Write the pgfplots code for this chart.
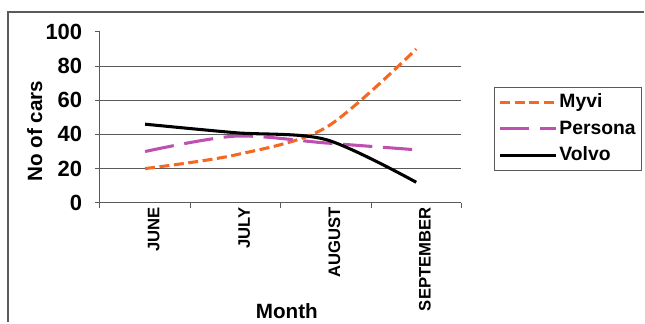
\documentclass[border=0pt]{standalone}
\usepackage{fontspec}
\setmainfont{Liberation Sans}
\usepackage{pgfplots}
\pgfplotsset{compat=1.18}

\definecolor{myvi}{RGB}{246,104,34}
\definecolor{persona}{RGB}{190,80,175}
\definecolor{axisgray}{RGB}{90,90,90}

\begin{document}
\begin{tikzpicture}[x=0.75pt,y=0.75pt]
\path (0,0) rectangle (645,322);
% outer chart frame
\draw[axisgray,line width=1.2pt] (8,0) -- (8,310) -- (645,310);
\begin{axis}[
  at={(75pt,89.25pt)}, anchor=south west,
  scale only axis, width=271.5pt, height=128.25pt,
  xmin=0, xmax=4, ymin=0, ymax=100,
  axis x line*=bottom, axis y line*=left,
  axis line style={axisgray,line width=0.8pt,-},
  tick style={axisgray,line width=0.8pt},
  tick align=outside, major tick length=3.75pt,
  xtick={0,1,2,3,4}, xticklabels={},
  extra x ticks={0.5,1.5,2.5,3.5},
  extra x tick labels={JUNE,JULY,AUGUST,SEPTEMBER},
  extra x tick style={major tick length=0pt,
    tick label style={rotate=90,anchor=east,font=\fontsize{12.5}{14}\selectfont\bfseries,xshift=0pt,yshift=-6.5pt}},
  ytick={0,20,...,100},
  extra y ticks={20,40,60,80},
  extra y tick labels={},
  extra y tick style={grid=major,major tick length=0pt},
  grid style={axisgray,line width=0.8pt},
  /pgf/number format/assume math mode=true,
  yticklabel style={font=\fontsize{16.5}{18}\selectfont\bfseries,xshift=-6pt},
  ylabel={No of cars},
  ylabel style={font=\fontsize{15.5}{17}\selectfont\bfseries,at={(axis description cs:-0.18,0.42)},anchor=center},
  xlabel={Month},
  xlabel style={font=\fontsize{15.5}{17}\selectfont\bfseries,at={(axis description cs:0.517,-0.637)},anchor=center},
  legend style={at={(1.5,0.678)},anchor=north east,draw=axisgray,line width=0.8pt,
    font=\fontsize{14.5}{17}\selectfont\bfseries,
    nodes={inner sep=1.5pt,text height=10.5pt,text depth=2.5pt},
    row sep=4pt, inner xsep=3pt, inner ysep=3pt},
  legend cell align=left,
  legend image code/.code={\draw[#1] (0pt,0pt) -- (42pt,0pt);},
  clip=false,
]
\addplot[myvi,line width=2.3pt,smooth,dash pattern=on 7.5pt off 3.4pt]
  coordinates {(0.5,20) (1.5,28) (2.5,44) (3.5,90)};
\addlegendentry{Myvi}
\addplot[persona,line width=2.3pt,smooth,dash pattern=on 22pt off 8pt]
  coordinates {(0.5,30) (1.5,39) (2.5,35) (3.5,31)};
\addlegendentry{Persona}
\addplot[black,line width=2.3pt,smooth]
  coordinates {(0.5,46) (1.5,41) (2.5,37) (3.5,12)};
\addlegendentry{Volvo}
\end{axis}
\end{tikzpicture}
\end{document}
